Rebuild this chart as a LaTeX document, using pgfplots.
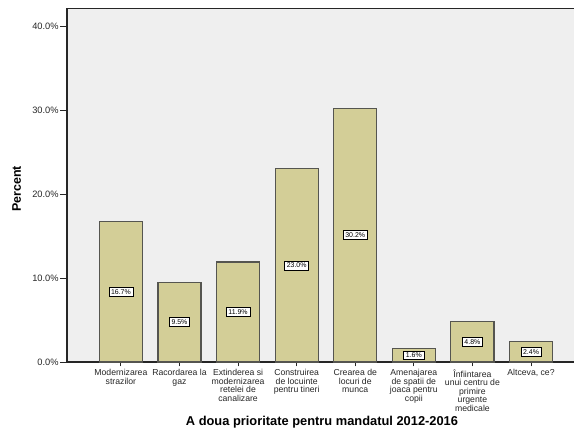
\documentclass[border=0pt]{standalone}
\usepackage{pgfplots}
\usepackage{pgfplotstable}
\usepackage{fontspec}
\setmainfont{Liberation Sans}
\pgfplotsset{compat=1.18}

\definecolor{barfill}{RGB}{211,206,151}
\definecolor{baredge}{RGB}{85,85,80}
\definecolor{panel}{RGB}{239,239,239}

\pgfplotstableread{
x v
0 16.7
1 9.5
2 11.9
3 23.0
4 30.2
5 1.6
6 4.8
7 2.4
}\prio

\begin{document}
\begin{tikzpicture}
\useasboundingbox (0,0) rectangle (574bp,432bp);
\begin{axis}[
  at={(67bp,70bp)}, anchor=south west,
  scale only axis,
  width=510bp, height=353.3bp,
  xmin=-0.92, xmax=7.785,
  ymin=0, ymax=42.06,
  /pgf/number format/assume math mode=true,
  axis background/.style={fill=panel},
  axis line style={line width=1.1pt, black!85},
  tick align=outside,
  xtick pos=bottom, ytick pos=left,
  major tick length=7bp,
  xtick style={/pgfplots/major tick length=4.5bp},
  tick style={line width=0.9pt, black!85},
  xtick={0,...,7},
  ytick={0,10,20,30,40},
  yticklabels={0.0\%,10.0\%,20.0\%,30.0\%,40.0\%},
  yticklabel style={font=\fontsize{9.3}{10}\selectfont, text=black!85, inner sep=1.2bp},
  xticklabels={
    Modernizarea\\strazilor,
    Racordarea la\\gaz,
    Extinderea si\\modernizarea\\retelei de\\canalizare,
    Construirea\\de locuinte\\pentru tineri,
    Crearea de\\locuri de\\munca,
    Amenajarea\\de spatii de\\joaca pentru\\copii,
    Înfiintarea\\unui centru de\\primire\\urgente\\medicale,
    {Altceva, ce?}
  },
  xticklabel style={font=\fontsize{8.7}{8.5}\selectfont, align=center, anchor=north, text=black!85, inner sep=1.5bp, yshift=1bp},
  xlabel={A doua prioritate pentru mandatul 2012-2016},
  xlabel style={at={(axis description cs:0.5,-0.170)}, anchor=center, font=\bfseries\fontsize{12.9}{14}\selectfont},
  ylabel={Percent},
  ylabel style={at={(axis description cs:-0.0985,0.49)}, anchor=center, font=\bfseries\fontsize{12.5}{14}\selectfont},
  clip=false,
]
\addplot[ybar, bar width=0.735, bar shift=0pt, fill=barfill, draw=baredge, line width=1.1pt]
  table[x=x, y=v] {\prio};
\addplot[draw=none, mark=none, point meta=\thisrow{v},
  nodes near coords={\pgfmathprintnumber[fixed,fixed zerofill,precision=1]{\pgfplotspointmeta}\%},
  every node near coord/.append style={anchor=center, fill=white, draw=black, line width=0.6pt,
    font=\fontsize{7}{8}\selectfont, inner xsep=2.2bp, inner ysep=2bp}]
  table[x=x, y expr=\thisrow{v}/2] {\prio};
\end{axis}
\end{tikzpicture}
\end{document}
